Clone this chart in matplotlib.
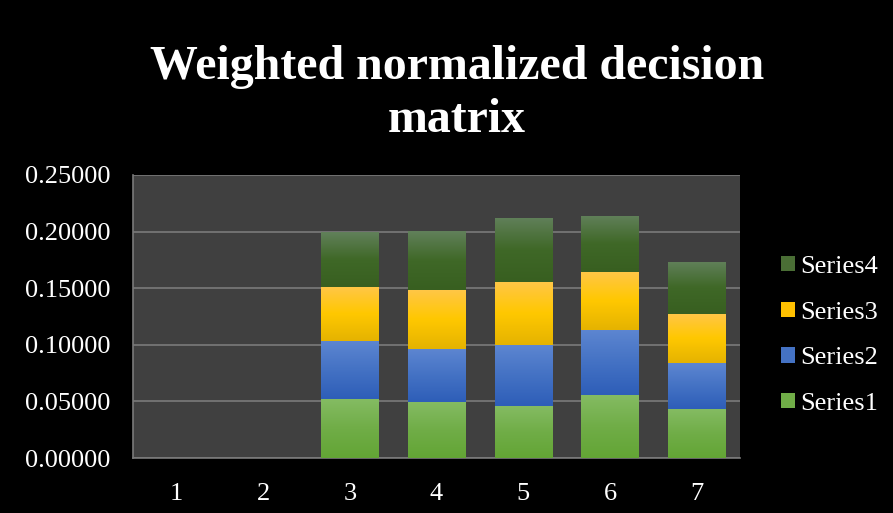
import numpy as np
import matplotlib
matplotlib.use("Agg")
import matplotlib.pyplot as plt
from matplotlib.colors import LinearSegmentedColormap
from matplotlib.patches import Patch

# Chart data
categories = ["1", "2", "3", "4", "5", "6", "7"]
series1 = [0.0, 0.0, 0.0519, 0.0493, 0.0458, 0.0555, 0.0432]
series2 = [0.0, 0.0, 0.0514, 0.0469, 0.0539, 0.0575, 0.0406]
series3 = [0.0, 0.0, 0.0477, 0.0522, 0.0558, 0.0513, 0.0434]
series4 = [0.0, 0.0, 0.0485, 0.0519, 0.0566, 0.0496, 0.0460]
series_names = ["Series1", "Series2", "Series3", "Series4"]
y_ticks = [0.0, 0.05, 0.10, 0.15, 0.20, 0.25]

# gradient stops (top, middle, bottom) per series
gradients = [
    ("#84bb62", "#70ad47", "#63a535"),
    ("#5d86d1", "#4472c4", "#2e5eb8"),
    ("#ffc648", "#ffc800", "#e5b300"),
    ("#61805a", "#3f6827", "#385f20"),
]
legend_colors = ["#70ad47", "#4472c4", "#ffc000", "#4a6e35"]

plt.rcParams["font.family"] = ["Liberation Serif", "DejaVu Serif"]

fig = plt.figure(figsize=(8.93, 5.13), dpi=100, facecolor="black")
ax = fig.add_axes([0.1489, 0.1072, 0.6798, 0.5517])
ax.set_facecolor("#404040")

x = np.arange(len(categories))
bottom = np.zeros(len(categories))
all_series = [series1, series2, series3, series4]
for vals, name, grad in zip(all_series, series_names, gradients):
    bars = ax.bar(x, vals, width=0.66, bottom=bottom, color=grad[1],
                  linewidth=0, label=name, zorder=2)
    cmap = LinearSegmentedColormap.from_list(name, [grad[2], grad[1], grad[0]])
    for patch in bars.patches:
        if patch.get_height() <= 0:
            continue
        px, py = patch.get_x(), patch.get_y()
        pw, ph = patch.get_width(), patch.get_height()
        img = ax.imshow(np.linspace(0, 1, 100).reshape(-1, 1), cmap=cmap,
                        extent=[px, px + pw, py, py + ph], origin="lower",
                        aspect="auto", zorder=3)
        img.set_clip_path(patch)
    bottom += np.array(vals)

ax.set_xlim(-0.5, len(categories) - 0.5)
ax.set_ylim(0, 0.25)
ax.set_xticks(x)
ax.set_xticklabels(categories)
ax.set_yticks(y_ticks)
ax.set_yticklabels([f"{v:.5f}" for v in y_ticks])
ax.tick_params(colors="white", labelsize=19, length=0)
ax.tick_params(axis="y", pad=16)
ax.tick_params(axis="x", pad=18)
ax.yaxis.grid(True, color="#7a7a7a", linewidth=1.2, zorder=1)
ax.set_axisbelow(True)
for side in ["top", "right"]:
    ax.spines[side].set_visible(False)
for side in ["left", "bottom"]:
    ax.spines[side].set_color("#7a7a7a")
    ax.spines[side].set_linewidth(1.2)

fig.text(0.512, 0.818, "Weighted normalized decision\nmatrix", color="white",
         fontsize=34.5, fontweight="bold", ha="center", va="center",
         linespacing=1.25)

handles = [Patch(facecolor=c, edgecolor="none", label=n)
           for c, n in zip(legend_colors, series_names)][::-1]
fig.legend(handles=handles, loc="center left", bbox_to_anchor=(0.875, 0.346),
           frameon=False, fontsize=19, labelcolor="white", handlelength=0.5,
           handleheight=0.5, handletextpad=0.22, labelspacing=0.9,
           borderaxespad=0, borderpad=0)

fig.savefig("out.png", dpi=100, facecolor="black")
